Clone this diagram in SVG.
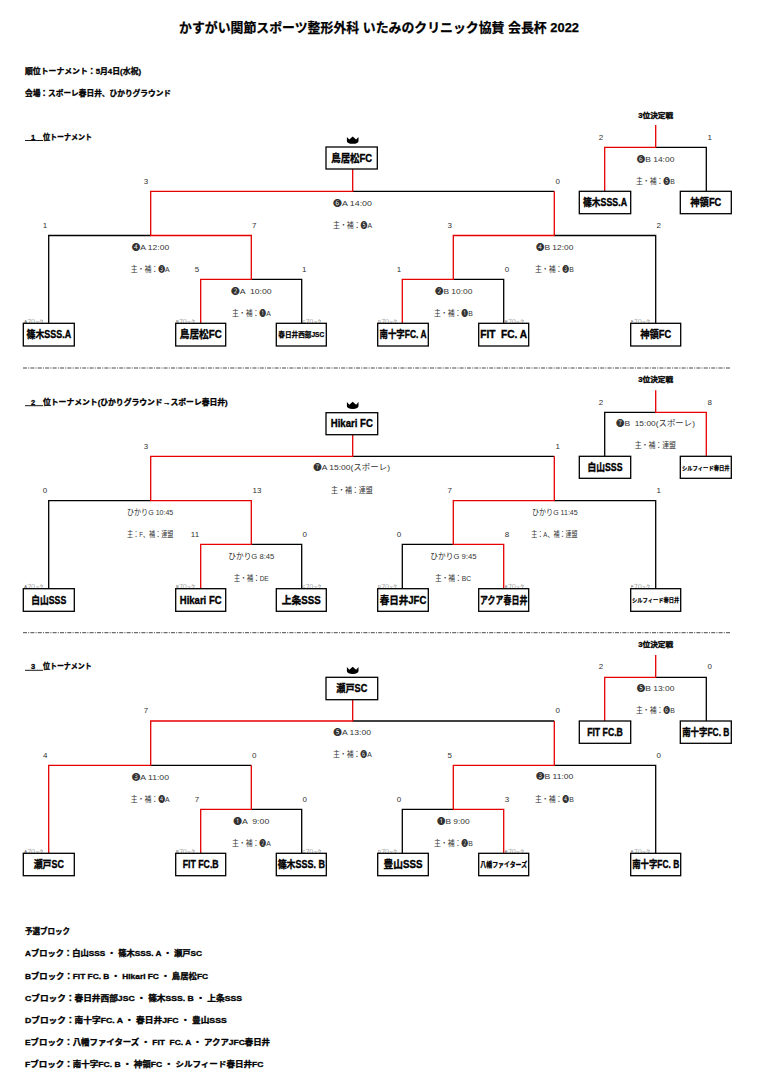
<svg xmlns="http://www.w3.org/2000/svg" xmlns:xlink="http://www.w3.org/1999/xlink" width="759" height="1080" viewBox="0 0 759 1080">
<style>
text { font-family: "Liberation Sans","Noto Sans CJK JP","DejaVu Sans",sans-serif; white-space: pre; }
.t { font-weight: bold; font-size: 13px; fill: #000; stroke: #000; stroke-width: 0.25; }
.h { font-weight: bold; font-size: 7.5px; fill: #000; stroke: #000; stroke-width: 0.3; }
.h3 { font-weight: bold; font-size: 7px; fill: #000; text-anchor: middle; stroke: #000; stroke-width: 0.3; }
.n { font-weight: bold; font-size: 10px; fill: #000; text-anchor: middle; stroke: #000; stroke-width: 0.35; }
.i { font-size: 8px; fill: #333; }
.s { font-size: 8px; fill: #333; text-anchor: middle; }
.b { font-size: 4.2px; fill: #555; }
.box { fill: #fff; stroke: #000; stroke-width: 1.3; }
.bk { fill: none; stroke: #000; stroke-width: 1.3; }
.rd { fill: none; stroke: #e60000; stroke-width: 1.3; }
.sep { fill: none; stroke: #333; stroke-width: 0.9; stroke-dasharray: 4 1.2 1 1.2; }
.ul { stroke: #000; stroke-width: 0.9; }
</style>
<defs>
<path id="crown" d="M-5.8,-3.6 L-3.4,-0.9 L0,-4 L3.4,-0.9 L5.8,-3.6 L5.8,0.4 Q5.8,3.2 0,3.2 Q-5.8,3.2 -5.8,0.4 Z" fill="#000"/>
</defs>
<rect width="759" height="1080" fill="#fff"/>

<g id="header">
<text class="t" x="179" y="31.7" textLength="400" lengthAdjust="spacingAndGlyphs">かすがい関節スポーツ整形外科 いたみのクリニック協賛 会長杯 2022</text>
<text class="h" x="25" y="73.8" textLength="116" lengthAdjust="spacingAndGlyphs">順位トーナメント：5月4日(水祝)</text>
<text class="h" x="25" y="95.8" textLength="146" lengthAdjust="spacingAndGlyphs">会場：スポーレ春日井、ひかりグラウンド</text>
</g>

<g id="separators">
<line class="sep" x1="23" y1="368" x2="731" y2="368"/>
<line class="sep" x1="23" y1="632.7" x2="731" y2="632.7"/>
</g>

<g id="section-labels">
<line class="ul" x1="25" y1="140.5" x2="43" y2="140.5"/>
<text class="h" x="33" y="139.5" text-anchor="middle">1</text>
<text class="h" x="43" y="139.5" textLength="49" lengthAdjust="spacingAndGlyphs">位トーナメント</text>
<line class="ul" x1="25" y1="405.7" x2="43" y2="405.7"/>
<text class="h" x="33" y="404.5" text-anchor="middle">2</text>
<text class="h" x="43" y="404.5" textLength="184.7" lengthAdjust="spacingAndGlyphs">位トーナメント(ひかりグラウンド→スポーレ春日井)</text>
<line class="ul" x1="25" y1="670.3" x2="43" y2="670.3"/>
<text class="h" x="33" y="668.8" text-anchor="middle">3</text>
<text class="h" x="43" y="668.8" textLength="48.7" lengthAdjust="spacingAndGlyphs">位トーナメント</text>
<text class="h3" x="655.7" y="117.5" textLength="35" lengthAdjust="spacingAndGlyphs">3位決定戦</text>
<text class="h3" x="655.7" y="381.5" textLength="35" lengthAdjust="spacingAndGlyphs">3位決定戦</text>
<text class="h3" x="655.7" y="646.8" textLength="35" lengthAdjust="spacingAndGlyphs">3位決定戦</text>
<use xlink:href="#crown" x="352.7" y="140.5"/>
<use xlink:href="#crown" x="352.7" y="405.7"/>
<use xlink:href="#crown" x="352.7" y="670.7"/>
</g>

<g id="connectors">
<!-- section 1 -->
<path class="bk" d="M352.7,191.3 H554.3"/>
<path class="bk" d="M150.7,235.5 H48.7 V323.3"/>
<path class="bk" d="M251.3,279.3 H301.7 V323.3"/>
<path class="bk" d="M554.3,235.5 H655.7 V323.3"/>
<path class="bk" d="M453.3,279.3 H503.7 V323.3"/>
<path class="bk" d="M655.7,147.3 H706.3 V191.3"/>
<path class="rd" d="M352.7,169 V191.3 H150.7 V235.5 H251.3 V279.3 H200.7 V323.3"/>
<path class="rd" d="M554.3,191.3 V235.5 H453.3 V279.3 H402.3 V323.3"/>
<path class="rd" d="M655.7,125 V147.3 H604.7 V191.3"/>
<!-- section 2 -->
<path class="bk" d="M352.7,456.3 H554.3"/>
<path class="bk" d="M150.7,500.7 H48.7 V588.7"/>
<path class="bk" d="M251.3,544.3 H301.7 V588.7"/>
<path class="bk" d="M554.3,500.7 H655.7 V588.7"/>
<path class="bk" d="M453.3,544.3 H402.3 V588.7"/>
<path class="bk" d="M655.7,412.3 H604.7 V456.3"/>
<path class="rd" d="M352.7,434.7 V456.3 H150.7 V500.7 H251.3 V544.3 H200.7 V588.7"/>
<path class="rd" d="M554.3,456.3 V500.7 H453.3 V544.3 H503.7 V588.7"/>
<path class="rd" d="M655.7,390.3 V412.3 H706.3 V456.3"/>
<!-- section 3 -->
<path class="bk" d="M352.7,721 H554.3"/>
<path class="bk" d="M150.7,765.3 H251.3"/>
<path class="bk" d="M251.3,809.3 H301.7 V853.3"/>
<path class="bk" d="M554.3,765.3 H655.7 V853.3"/>
<path class="bk" d="M453.3,809.3 H402.3 V853.3"/>
<path class="bk" d="M655.7,677.3 H706.3 V721"/>
<path class="rd" d="M352.7,699.7 V721 H150.7 V765.3 H48.7 V853.3"/>
<path class="rd" d="M251.3,765.3 V809.3 H200.7 V853.3"/>
<path class="rd" d="M554.3,721 V765.3 H453.3 V809.3 H503.7 V853.3"/>
<path class="rd" d="M655.7,655 V677.3 H604.7 V721"/>
</g>

<g id="scores">
<text class="s" x="146" y="184">3</text>
<text class="s" x="557.7" y="184">0</text>
<text class="s" x="45" y="228">1</text>
<text class="s" x="254.3" y="228">7</text>
<text class="s" x="197" y="272">5</text>
<text class="s" x="304.3" y="272">1</text>
<text class="s" x="449.7" y="228">3</text>
<text class="s" x="658.7" y="228">2</text>
<text class="s" x="399" y="272">1</text>
<text class="s" x="507" y="272">0</text>
<text class="s" x="601" y="140">2</text>
<text class="s" x="709.7" y="140">1</text>

<text class="s" x="146" y="448.7">3</text>
<text class="s" x="557.7" y="449">1</text>
<text class="s" x="45" y="493">0</text>
<text class="s" x="257" y="493">13</text>
<text class="s" x="195" y="537">11</text>
<text class="s" x="304.7" y="537">0</text>
<text class="s" x="449.7" y="493">7</text>
<text class="s" x="658.7" y="493">1</text>
<text class="s" x="399" y="537">0</text>
<text class="s" x="507" y="537">8</text>
<text class="s" x="601" y="404.7">2</text>
<text class="s" x="709.7" y="404.7">8</text>

<text class="s" x="146" y="713">7</text>
<text class="s" x="557.7" y="713">0</text>
<text class="s" x="45.3" y="757.7">4</text>
<text class="s" x="254.3" y="757.7">0</text>
<text class="s" x="197" y="801.7">7</text>
<text class="s" x="304.7" y="801.7">0</text>
<text class="s" x="449.7" y="757.7">5</text>
<text class="s" x="658.7" y="757.7">0</text>
<text class="s" x="399" y="801.7">0</text>
<text class="s" x="507" y="801.7">3</text>
<text class="s" x="601" y="669.3">2</text>
<text class="s" x="709.7" y="669.3">0</text>
</g>

<g id="match-info">
<text class="i" x="333" y="206" textLength="39" lengthAdjust="spacingAndGlyphs">❻A 14:00</text>
<text class="i" x="333" y="228" textLength="39" lengthAdjust="spacingAndGlyphs">主・補：❺A</text>
<text class="i" x="131.7" y="250" textLength="37.5" lengthAdjust="spacingAndGlyphs">❹A 12:00</text>
<text class="i" x="130.7" y="272" textLength="39" lengthAdjust="spacingAndGlyphs">主・補：❸A</text>
<text class="i" x="231" y="294" textLength="40.7" lengthAdjust="spacingAndGlyphs">❷A  10:00</text>
<text class="i" x="232" y="316" textLength="38.7" lengthAdjust="spacingAndGlyphs">主・補：❶A</text>
<text class="i" x="536" y="250" textLength="37.3" lengthAdjust="spacingAndGlyphs">❹B 12:00</text>
<text class="i" x="535" y="272" textLength="38.7" lengthAdjust="spacingAndGlyphs">主・補：❸B</text>
<text class="i" x="435" y="294" textLength="37.3" lengthAdjust="spacingAndGlyphs">❷B 10:00</text>
<text class="i" x="434" y="316" textLength="38.7" lengthAdjust="spacingAndGlyphs">主・補：❶B</text>
<text class="i" x="636.7" y="162" textLength="37.7" lengthAdjust="spacingAndGlyphs">❻B 14:00</text>
<text class="i" x="636" y="184" textLength="38.7" lengthAdjust="spacingAndGlyphs">主・補：❺B</text>

<text class="i" x="313.3" y="470.3" textLength="76.7" lengthAdjust="spacingAndGlyphs">❼A 15:00(スポーレ)</text>
<text class="i" x="331" y="492.7" textLength="41.7" lengthAdjust="spacingAndGlyphs">主・補：連盟</text>
<text class="i" x="127" y="514.7" textLength="46.3" lengthAdjust="spacingAndGlyphs">ひかりG 10:45</text>
<text class="i" x="127" y="537" textLength="46.3" lengthAdjust="spacingAndGlyphs">主：F、補：連盟</text>
<text class="i" x="228.3" y="558.7" textLength="46" lengthAdjust="spacingAndGlyphs">ひかりG 8:45</text>
<text class="i" x="233.7" y="581" textLength="35" lengthAdjust="spacingAndGlyphs">主・補：DE</text>
<text class="i" x="532" y="514.7" textLength="45.7" lengthAdjust="spacingAndGlyphs">ひかりG 11:45</text>
<text class="i" x="531.3" y="537" textLength="46.3" lengthAdjust="spacingAndGlyphs">主：A、補：連盟</text>
<text class="i" x="430.3" y="558.7" textLength="46.3" lengthAdjust="spacingAndGlyphs">ひかりG 9:45</text>
<text class="i" x="435" y="581" textLength="36" lengthAdjust="spacingAndGlyphs">主・補：BC</text>
<text class="i" x="616" y="426.3" textLength="79" lengthAdjust="spacingAndGlyphs">❼B  15:00(スポーレ)</text>
<text class="i" x="634.7" y="448.3" textLength="41.3" lengthAdjust="spacingAndGlyphs">主・補：連盟</text>

<text class="i" x="333.3" y="735" textLength="37.7" lengthAdjust="spacingAndGlyphs">❺A 13:00</text>
<text class="i" x="333" y="757.3" textLength="38.7" lengthAdjust="spacingAndGlyphs">主・補：❻A</text>
<text class="i" x="131.7" y="779.7" textLength="37.3" lengthAdjust="spacingAndGlyphs">❸A 11:00</text>
<text class="i" x="130.7" y="801.7" textLength="39" lengthAdjust="spacingAndGlyphs">主・補：❹A</text>
<text class="i" x="233.3" y="823.7" textLength="36" lengthAdjust="spacingAndGlyphs">❶A  9:00</text>
<text class="i" x="232" y="845.7" textLength="38.7" lengthAdjust="spacingAndGlyphs">主・補：❷A</text>
<text class="i" x="536" y="779.3" textLength="37.3" lengthAdjust="spacingAndGlyphs">❸B 11:00</text>
<text class="i" x="535" y="801.7" textLength="38.7" lengthAdjust="spacingAndGlyphs">主・補：❹B</text>
<text class="i" x="437" y="823.7" textLength="32.7" lengthAdjust="spacingAndGlyphs">❶B 9:00</text>
<text class="i" x="434" y="845.7" textLength="38.7" lengthAdjust="spacingAndGlyphs">主・補：❷B</text>
<text class="i" x="636.7" y="691.3" textLength="37.7" lengthAdjust="spacingAndGlyphs">❺B 13:00</text>
<text class="i" x="636" y="713.3" textLength="38.7" lengthAdjust="spacingAndGlyphs">主・補：❻B</text>
</g>

<g id="block-tags">
<text class="b" x="24.3" y="322.9" textLength="19" lengthAdjust="spacingAndGlyphs">Aブロック</text>
<text class="b" x="176" y="322.9" textLength="19" lengthAdjust="spacingAndGlyphs">Bブロック</text>
<text class="b" x="302.3" y="322.9" textLength="19" lengthAdjust="spacingAndGlyphs">Cブロック</text>
<text class="b" x="378" y="322.9" textLength="19" lengthAdjust="spacingAndGlyphs">Dブロック</text>
<text class="b" x="505" y="322.9" textLength="19" lengthAdjust="spacingAndGlyphs">Eブロック</text>
<text class="b" x="631" y="322.9" textLength="19" lengthAdjust="spacingAndGlyphs">Fブロック</text>
<text class="b" x="24.3" y="588" textLength="19" lengthAdjust="spacingAndGlyphs">Aブロック</text>
<text class="b" x="176" y="588" textLength="19" lengthAdjust="spacingAndGlyphs">Bブロック</text>
<text class="b" x="302.3" y="588" textLength="19" lengthAdjust="spacingAndGlyphs">Cブロック</text>
<text class="b" x="378" y="588" textLength="19" lengthAdjust="spacingAndGlyphs">Dブロック</text>
<text class="b" x="505" y="588" textLength="19" lengthAdjust="spacingAndGlyphs">Eブロック</text>
<text class="b" x="631" y="588" textLength="19" lengthAdjust="spacingAndGlyphs">Fブロック</text>
<text class="b" x="24.3" y="853.2" textLength="19" lengthAdjust="spacingAndGlyphs">Aブロック</text>
<text class="b" x="176" y="853.2" textLength="19" lengthAdjust="spacingAndGlyphs">Bブロック</text>
<text class="b" x="302.3" y="853.2" textLength="19" lengthAdjust="spacingAndGlyphs">Cブロック</text>
<text class="b" x="378" y="853.2" textLength="19" lengthAdjust="spacingAndGlyphs">Dブロック</text>
<text class="b" x="505" y="853.2" textLength="19" lengthAdjust="spacingAndGlyphs">Eブロック</text>
<text class="b" x="631" y="853.2" textLength="19" lengthAdjust="spacingAndGlyphs">Fブロック</text>
</g>

<!-- Section 1 nodes -->
<g id="s1-winner"><rect class="box" x="326" y="147" width="51.3" height="22"/><text class="n" x="351.7" y="161.6" textLength="41" lengthAdjust="spacingAndGlyphs">鳥居松FC</text></g>
<g id="s1-third-a"><rect class="box" x="579.3" y="191.3" width="51.4" height="22.4"/><text class="n" x="605" y="206.1" textLength="44" lengthAdjust="spacingAndGlyphs">篠木SSS.A</text></g>
<g id="s1-third-b"><rect class="box" x="680.3" y="191.3" width="51" height="22.4"/><text class="n" x="705.8" y="206.1" textLength="31" lengthAdjust="spacingAndGlyphs">神領FC</text></g>
<g id="s1-a"><rect class="box" x="23.3" y="323.3" width="51" height="22.7"/><text class="n" x="48.8" y="338.3" textLength="44.6" lengthAdjust="spacingAndGlyphs">篠木SSS.A</text></g>
<g id="s1-b"><rect class="box" x="175.7" y="323.3" width="50" height="22.7"/><text class="n" x="200.7" y="338.3" textLength="42" lengthAdjust="spacingAndGlyphs">鳥居松FC</text></g>
<g id="s1-c"><rect class="box" x="276.3" y="323.3" width="50" height="22.7"/><text class="n" x="301.3" y="337.3" style="font-size:7px;stroke-width:0.25" textLength="46" lengthAdjust="spacingAndGlyphs">春日井西部JSC</text></g>
<g id="s1-d"><rect class="box" x="377.7" y="323.3" width="50.6" height="22.7"/><text class="n" x="403" y="338.3" textLength="47" lengthAdjust="spacingAndGlyphs">南十字FC. A</text></g>
<g id="s1-e"><rect class="box" x="478.7" y="323.3" width="50" height="22.7"/><text class="n" x="503.7" y="338.3" textLength="47" lengthAdjust="spacingAndGlyphs">FIT  FC. A</text></g>
<g id="s1-f"><rect class="box" x="630.7" y="323.3" width="50" height="22.7"/><text class="n" x="655.7" y="338.3" textLength="31" lengthAdjust="spacingAndGlyphs">神領FC</text></g>

<!-- Section 2 nodes -->
<g id="s2-winner"><rect class="box" x="326" y="412.7" width="51.7" height="22"/><text class="n" x="351.8" y="427.3" textLength="42" lengthAdjust="spacingAndGlyphs">Hikari FC</text></g>
<g id="s2-third-a"><rect class="box" x="579.3" y="456.3" width="51.4" height="22"/><text class="n" x="605" y="470.9" textLength="35" lengthAdjust="spacingAndGlyphs">白山SSS</text></g>
<g id="s2-third-b"><rect class="box" x="680.3" y="456.3" width="51" height="22"/><text class="n" x="705.8" y="469.5" style="font-size:6px;stroke-width:0.2" textLength="47.7" lengthAdjust="spacingAndGlyphs">シルフィード春日井</text></g>
<g id="s2-a"><rect class="box" x="23.3" y="588.7" width="51" height="22.6"/><text class="n" x="48.8" y="603.6" textLength="35" lengthAdjust="spacingAndGlyphs">白山SSS</text></g>
<g id="s2-b"><rect class="box" x="175.7" y="588.7" width="50" height="22.6"/><text class="n" x="200.7" y="603.6" textLength="41.7" lengthAdjust="spacingAndGlyphs">Hikari FC</text></g>
<g id="s2-c"><rect class="box" x="276.3" y="588.7" width="50" height="22.6"/><text class="n" x="301.3" y="603.6" textLength="39" lengthAdjust="spacingAndGlyphs">上条SSS</text></g>
<g id="s2-d"><rect class="box" x="377.7" y="588.7" width="50.6" height="22.6"/><text class="n" x="403" y="603.6" textLength="46.7" lengthAdjust="spacingAndGlyphs">春日井JFC</text></g>
<g id="s2-e"><rect class="box" x="478.7" y="588.7" width="50" height="22.6"/><text class="n" x="503.7" y="603.6" textLength="47.3" lengthAdjust="spacingAndGlyphs">アクア春日井</text></g>
<g id="s2-f"><rect class="box" x="630.7" y="588.7" width="50" height="22.6"/><text class="n" x="655.7" y="602.2" style="font-size:6px;stroke-width:0.2" textLength="47.3" lengthAdjust="spacingAndGlyphs">シルフィード春日井</text></g>

<!-- Section 3 nodes -->
<g id="s3-winner"><rect class="box" x="326" y="677.3" width="51.7" height="22.4"/><text class="n" x="351.8" y="692.1" textLength="31" lengthAdjust="spacingAndGlyphs">瀬戸SC</text></g>
<g id="s3-third-a"><rect class="box" x="579.3" y="721" width="51.4" height="22.3"/><text class="n" x="605" y="735.8" textLength="35.7" lengthAdjust="spacingAndGlyphs">FIT FC.B</text></g>
<g id="s3-third-b"><rect class="box" x="680.3" y="721" width="51" height="22.3"/><text class="n" x="705.8" y="735.8" textLength="47.3" lengthAdjust="spacingAndGlyphs">南十字FC. B</text></g>
<g id="s3-a"><rect class="box" x="23.3" y="853.3" width="51" height="22.4"/><text class="n" x="48.8" y="868.1" textLength="30.3" lengthAdjust="spacingAndGlyphs">瀬戸SC</text></g>
<g id="s3-b"><rect class="box" x="175.7" y="853.3" width="50" height="22.4"/><text class="n" x="200.7" y="868.1" textLength="36" lengthAdjust="spacingAndGlyphs">FIT FC.B</text></g>
<g id="s3-c"><rect class="box" x="276.3" y="853.3" width="50" height="22.4"/><text class="n" x="301.3" y="868.1" textLength="47.3" lengthAdjust="spacingAndGlyphs">篠木SSS. B</text></g>
<g id="s3-d"><rect class="box" x="377.7" y="853.3" width="50.6" height="22.4"/><text class="n" x="403" y="868.1" textLength="39" lengthAdjust="spacingAndGlyphs">豊山SSS</text></g>
<g id="s3-e"><rect class="box" x="478.7" y="853.3" width="50" height="22.4"/><text class="n" x="503.7" y="867" style="font-size:7px;stroke-width:0.25" textLength="46.7" lengthAdjust="spacingAndGlyphs">八幡ファイターズ</text></g>
<g id="s3-f"><rect class="box" x="630.7" y="853.3" width="50" height="22.4"/><text class="n" x="655.7" y="868.1" textLength="47" lengthAdjust="spacingAndGlyphs">南十字FC. B</text></g>

<g id="legend">
<text class="h" x="25" y="933.5" textLength="45" lengthAdjust="spacingAndGlyphs">予選ブロック</text>
<text class="h" x="25" y="956.1" textLength="177" lengthAdjust="spacingAndGlyphs">Aブロック：白山SSS ・ 篠木SSS. A ・ 瀬戸SC</text>
<text class="h" x="25" y="978.5" textLength="183" lengthAdjust="spacingAndGlyphs">Bブロック：FIT FC. B ・ Hikari FC ・ 鳥居松FC</text>
<text class="h" x="25" y="1000.5" textLength="217" lengthAdjust="spacingAndGlyphs">Cブロック：春日井西部JSC ・ 篠木SSS. B ・ 上条SSS</text>
<text class="h" x="25" y="1022.5" textLength="201.7" lengthAdjust="spacingAndGlyphs">Dブロック：南十字FC. A ・ 春日井JFC ・ 豊山SSS</text>
<text class="h" x="25" y="1044.5" textLength="245" lengthAdjust="spacingAndGlyphs">Eブロック：八幡ファイターズ ・ FIT  FC. A ・ アクアJFC春日井</text>
<text class="h" x="25" y="1066.5" textLength="238.3" lengthAdjust="spacingAndGlyphs">Fブロック：南十字FC. B ・ 神領FC ・ シルフィード春日井FC</text>
</g>
</svg>
